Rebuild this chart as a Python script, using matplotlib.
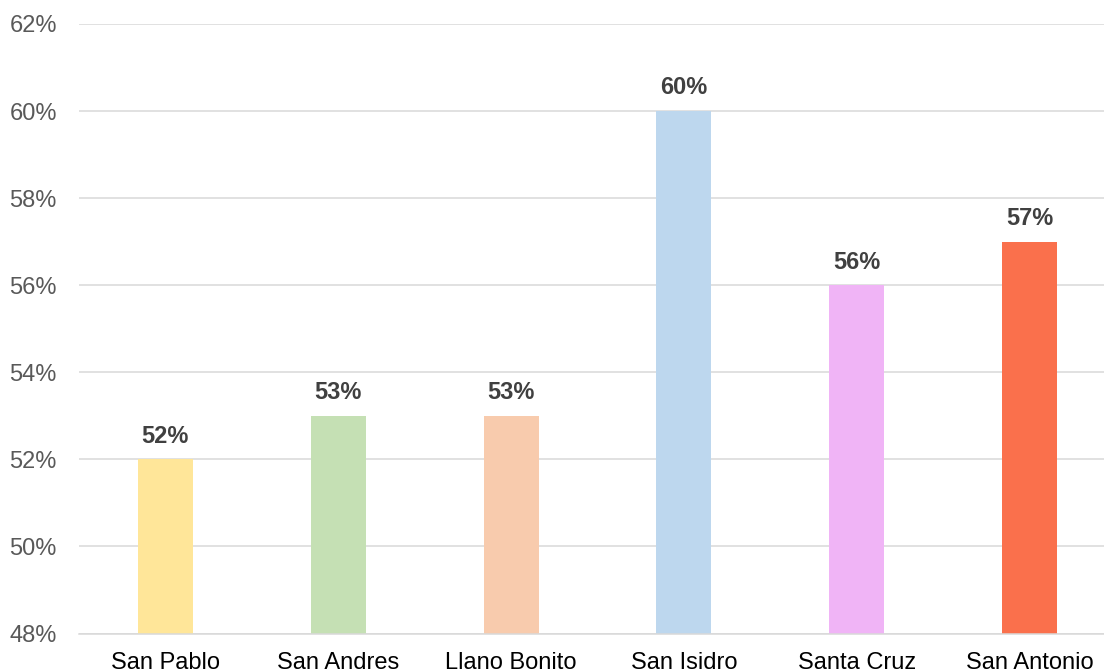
import numpy as np
import matplotlib.pyplot as plt
from matplotlib.ticker import FuncFormatter

plt.rcParams['font.family'] = ['Liberation Sans', 'DejaVu Sans']

categories = ["San Pablo", "San Andres", "Llano Bonito", "San Isidro", "Santa Cruz", "San Antonio"]
values = [52, 53, 53, 60, 56, 57]
colors = ["#FFE699", "#C5E0B4", "#F8CBAD", "#BDD7EE", "#F0B4F6", "#FA704C"]
yticks = [48, 50, 52, 54, 56, 58, 60, 62]

fig = plt.figure(figsize=(11.04, 6.72), dpi=100)
ax = fig.add_axes([79 / 1104, 38.5 / 672, 1037 / 1104, 609.5 / 672])

x = np.arange(len(categories))
bars = ax.bar(x, np.array(values) - 48, bottom=48, width=0.318, color=colors, zorder=2)

for xi, v in zip(x, values):
    ax.annotate(f"{v}%", (xi, v), xytext=(0, 12), textcoords="offset points",
                ha="center", va="baseline", fontsize=17, fontweight="bold", color="#404040")

ax.set_ylim(48, 62)
ax.set_xlim(-0.5, len(categories) - 0.5)
ax.set_yticks(yticks)
ax.yaxis.set_major_formatter(FuncFormatter(lambda v, p: f"{v:.0f}%"))
ax.set_xticks(x)
ax.set_xticklabels(categories)
ax.tick_params(axis="y", length=0, pad=16, labelsize=17, labelcolor="#595959")
ax.tick_params(axis="x", length=0, pad=13, labelsize=17, labelcolor="#000000")
ax.grid(axis="y", color="#D9D9D9", linewidth=1.1, zorder=0)
ax.set_axisbelow(True)
for s in ["top", "right", "left"]:
    ax.spines[s].set_visible(False)
ax.spines["bottom"].set_color("#D9D9D9")
ax.spines["bottom"].set_linewidth(1.1)

fig.savefig("out.png", dpi=100)
